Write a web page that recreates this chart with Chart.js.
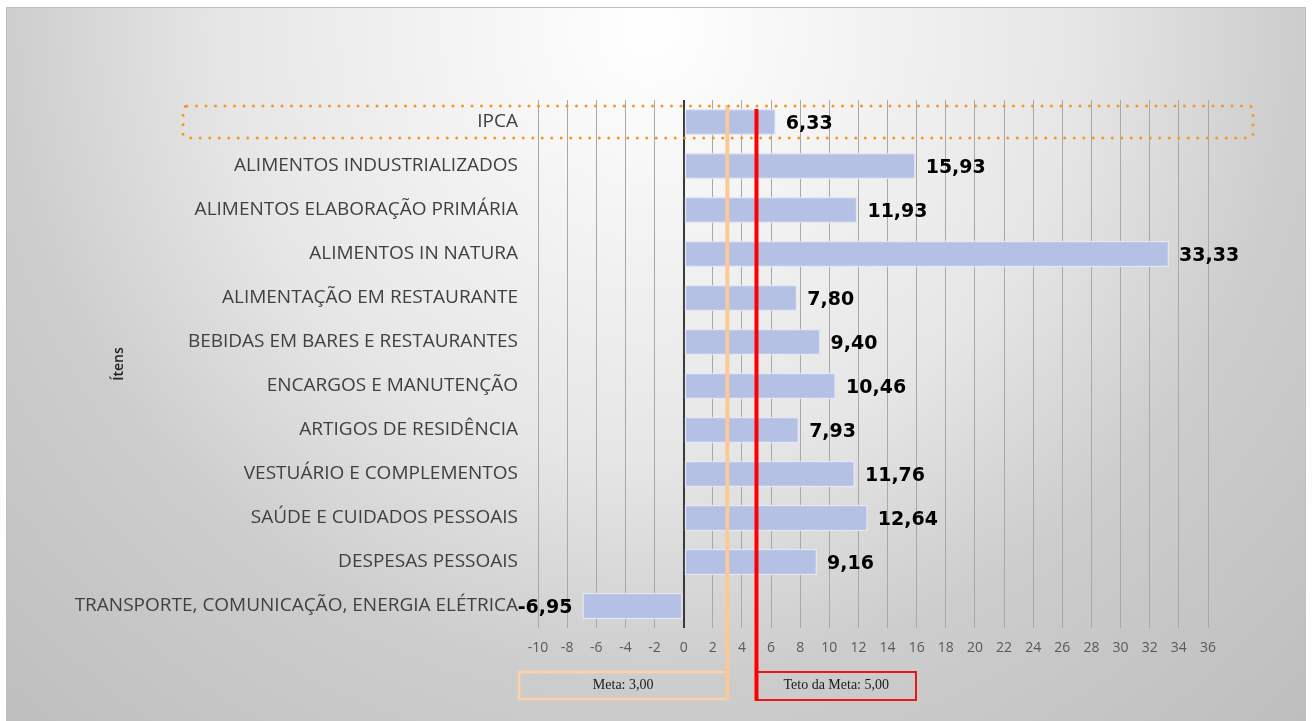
<!DOCTYPE html>
<html lang="pt-BR">
<head>
<meta charset="utf-8">
<title>IPCA por grupo</title>
<script src="https://cdn.jsdelivr.net/npm/chart.js@4.4.1/dist/chart.umd.min.js"></script>
<style>
  html, body { margin: 0; padding: 0; background: #fff; }
  canvas { display: block; }
</style>
</head>
<body>
<canvas id="grafico" width="1312" height="721"></canvas>
<script>
// dados
const categorias = [
    "IPCA",
    "ALIMENTOS INDUSTRIALIZADOS",
    "ALIMENTOS ELABORAÇÃO PRIMÁRIA",
    "ALIMENTOS IN NATURA",
    "ALIMENTAÇÃO EM RESTAURANTE",
    "BEBIDAS EM BARES E RESTAURANTES",
    "ENCARGOS E MANUTENÇÃO",
    "ARTIGOS DE RESIDÊNCIA",
    "VESTUÁRIO E COMPLEMENTOS",
    "SAÚDE E CUIDADOS PESSOAIS",
    "DESPESAS PESSOAIS",
    "TRANSPORTE, COMUNICAÇÃO, ENERGIA ELÉTRICA"
];
const variacao = [6.33, 15.93, 11.93, 33.33, 7.80, 9.40, 10.46, 7.93, 11.76, 12.64, 9.16, -6.95];
const eixoMin = -10;
const eixoMax = 36;
const eixoPasso = 2;
const meta = 3.00;
const tetoMeta = 5.00;

function fmt(v) {
    return v.toFixed(2).replace('.', ',');
}

// fundo cinza com brilho no centro
const fundo = {
    id: 'fundo',
    beforeDraw: function(chart) {
        var c = chart.ctx;
        c.save();
        c.fillStyle = '#ffffff';
        c.fillRect(0, 0, chart.width, chart.height);
        var g = c.createRadialGradient(650, 30, 0, 650, 30, 950);
        g.addColorStop(0, '#ffffff');
        g.addColorStop(0.45, '#e6e6e6');
        g.addColorStop(0.68, '#cdcdcd');
        g.addColorStop(1, '#bebebe');
        c.fillStyle = g;
        c.fillRect(6, 7, 1300, chart.height - 7);
        c.strokeStyle = '#bfbfbf';
        c.lineWidth = 1;
        c.beginPath();
        c.moveTo(6.5, chart.height);
        c.lineTo(6.5, 7.5);
        c.lineTo(1305.5, 7.5);
        c.lineTo(1305.5, chart.height);
        c.stroke();
        c.restore();
    }
};

// rótulos, linhas de meta e destaque do IPCA
const extras = {
    id: 'extras',
    afterDatasetsDraw: function(chart) {
        var c = chart.ctx;
        var x = chart.scales.x, y = chart.scales.y;
        var area = chart.chartArea;
        c.save();

        // valores
        c.font = 'bold 19px "DejaVu Sans"';
        c.fillStyle = '#000';
        c.textBaseline = 'middle';
        chart.getDatasetMeta(0).data.forEach(function(bar, i) {
            var v = variacao[i];
            if (v >= 0) {
                c.textAlign = 'left';
                c.fillText(fmt(v), bar.x + 10, bar.y + 2);
            } else {
                c.textAlign = 'right';
                c.fillText(fmt(v), bar.x - 10, bar.y + 2);
            }
        });

        // meta e teto
        var xm = x.getPixelForValue(meta);
        var xt = x.getPixelForValue(tetoMeta);
        var boxTop = 672, boxBot = 699;

        c.strokeStyle = '#fcd2ab';
        c.lineWidth = 2.5;
        c.strokeRect(519, boxTop, xm - 519, boxBot - boxTop);
        c.strokeStyle = '#fbc897';
        c.lineWidth = 4;
        c.beginPath();
        c.moveTo(xm, area.top + 5);
        c.lineTo(xm, boxBot + 1);
        c.stroke();

        c.strokeStyle = '#e81818';
        c.lineWidth = 2;
        c.strokeRect(xt, boxTop, 916 - xt, boxBot - boxTop + 1);
        c.strokeStyle = '#ff0000';
        c.lineWidth = 4;
        c.beginPath();
        c.moveTo(xt, area.top + 9);
        c.lineTo(xt, boxBot + 2);
        c.stroke();

        c.font = '14px "Liberation Serif"';
        c.fillStyle = '#1a1a1a';
        c.textAlign = 'center';
        c.fillText('Meta: ' + fmt(meta), (519 + xm) / 2, (boxTop + boxBot) / 2);
        c.fillText('Teto da Meta: ' + fmt(tetoMeta), (xt + 916) / 2, (boxTop + boxBot) / 2);

        // destaque pontilhado do IPCA
        var yc = y.getPixelForValue(0);
        c.strokeStyle = '#f39a1e';
        c.lineWidth = 3;
        c.lineCap = 'round';
        c.setLineDash([0, 9.5]);
        c.beginPath();
        c.roundRect(183, yc - 16, area.right + 45 - 183, 32, 4);
        c.stroke();

        c.restore();
    }
};

new Chart(document.getElementById('grafico'), {
    type: 'bar',
    data: {
        labels: categorias,
        datasets: [{
            data: variacao,
            backgroundColor: '#b4c1e4',
            borderColor: '#e2e7f6',
            borderWidth: 1.5,
            borderSkipped: false,
            categoryPercentage: 1,
            barPercentage: 0.6
        }]
    },
    options: {
        indexAxis: 'y',
        responsive: false,
        animation: false,
        layout: { padding: { left: 0, right: 104, top: 100, bottom: 0 } },
        plugins: {
            legend: { display: false },
            tooltip: { enabled: false }
        },
        scales: {
            x: {
                min: eixoMin,
                max: eixoMax,
                ticks: {
                    stepSize: eixoPasso,
                    color: '#595959',
                    padding: 12,
                    font: { family: 'Open Sans', size: 14 }
                },
                grid: {
                    drawTicks: false,
                    color: function(ctx) { return ctx.tick && ctx.tick.value === 0 ? '#3a3a3a' : '#a8a8a8'; },
                    lineWidth: function(ctx) { return ctx.tick && ctx.tick.value === 0 ? 2 : 1; }
                },
                border: { display: false },
                afterFit: function(s) { s.height = 93; }
            },
            y: {
                grid: { display: false, drawTicks: false },
                border: { display: false },
                ticks: {
                    color: '#404040',
                    padding: 20,
                    font: { family: 'Open Sans', size: 19 }
                },
                title: {
                    display: true,
                    text: 'Ítens',
                    color: '#222',
                    padding: { top: 111, bottom: 0 },
                    font: { family: 'Open Sans', size: 14, weight: '600' }
                },
                afterFit: function(s) { s.width = 538; }
            }
        }
    },
    plugins: [fundo, extras]
});
</script>
</body>
</html>
